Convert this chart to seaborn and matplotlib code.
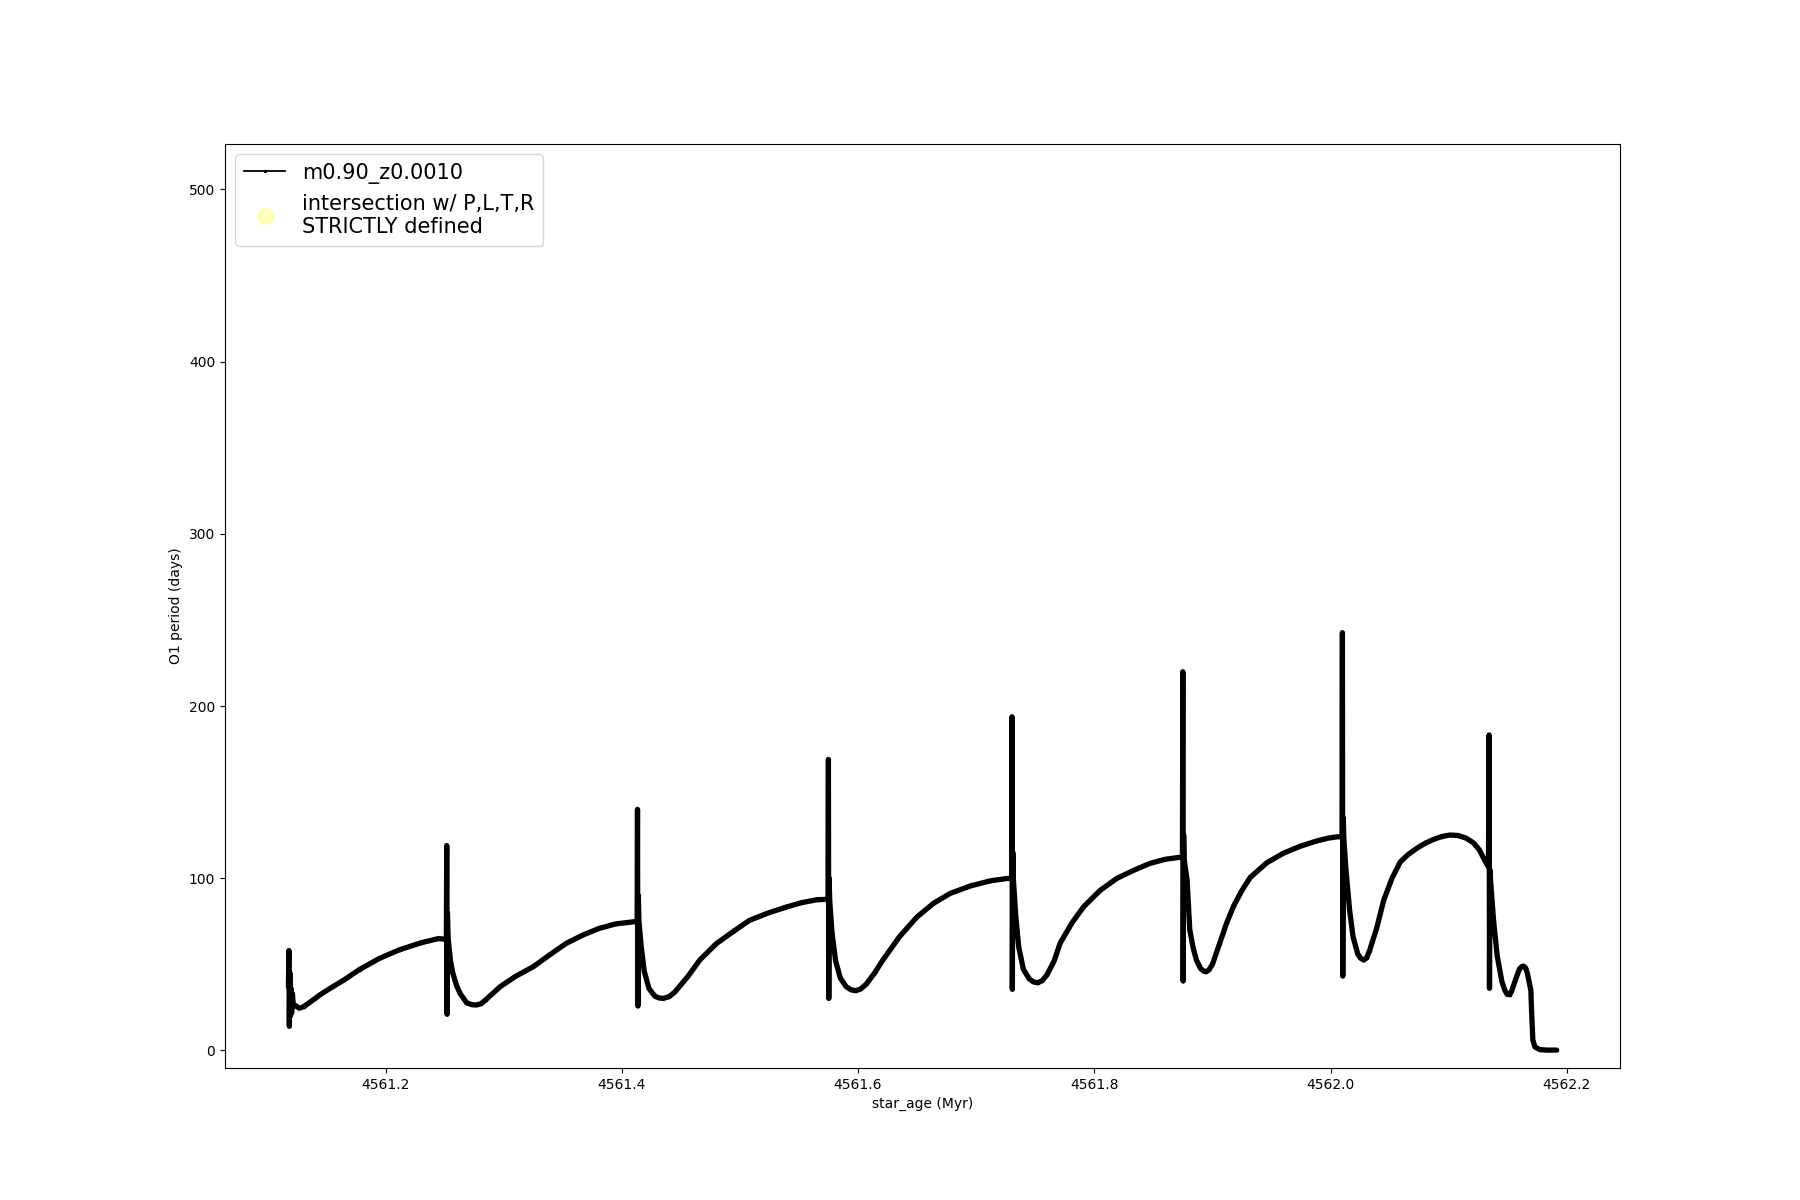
# O1 period vs star age for m0.90_z0.0010 (thermal pulse cycles)

import pandas as pd
import matplotlib
matplotlib.use('Agg')
import matplotlib.pyplot as plt
from matplotlib.lines import Line2D
import seaborn as sns

model_label = 'm0.90_z0.0010'
intersection_label = 'intersection w/ P,L,T,R\nSTRICTLY defined'

# valores (idade em Myr, periodo em dias)
star_age = [
    4561.1178, 4561.1182, 4561.1186, 4561.1190, 4561.1195, 4561.1200, 4561.1205, 4561.1212,
    4561.1220, 4561.1240, 4561.1270, 4561.1310, 4561.1350, 4561.1400, 4561.1450, 4561.1530,
    4561.1650, 4561.1780, 4561.1950, 4561.2120, 4561.2300, 4561.2450, 4561.2505,
    # pulso 1
    4561.2515, 4561.2518, 4561.2521, 4561.2524, 4561.2530, 4561.2550, 4561.2570, 4561.2600,
    4561.2630, 4561.2686, 4561.2730, 4561.2770, 4561.2810, 4561.2850, 4561.2970, 4561.3100,
    4561.3250, 4561.3400, 4561.3530, 4561.3670, 4561.3810, 4561.3950, 4561.4100,
    # pulso 2
    4561.4130, 4561.4133, 4561.4136, 4561.4140, 4561.4145, 4561.4165, 4561.4190, 4561.4230,
    4561.4280, 4561.4315, 4561.4350, 4561.4400, 4561.4450, 4561.4560, 4561.4660, 4561.4800,
    4561.4940, 4561.5080, 4561.5230, 4561.5380, 4561.5520, 4561.5650, 4561.5720,
    # pulso 3
    4561.5746, 4561.5749, 4561.5752, 4561.5755, 4561.5760, 4561.5780, 4561.5810, 4561.5850,
    4561.5900, 4561.5940, 4561.5980, 4561.6020, 4561.6070, 4561.6140, 4561.6210, 4561.6350,
    4561.6500, 4561.6640, 4561.6780, 4561.6950, 4561.7120, 4561.7265,
    # pulso 4
    4561.7300, 4561.7303, 4561.7306, 4561.7310, 4561.7315, 4561.7335, 4561.7360, 4561.7400,
    4561.7450, 4561.7485, 4561.7520, 4561.7560, 4561.7600, 4561.7660, 4561.7710, 4561.7810,
    4561.7910, 4561.8050, 4561.8190, 4561.8330, 4561.8470, 4561.8600, 4561.8715,
    # pulso 5
    4561.8746, 4561.8749, 4561.8752, 4561.8756, 4561.8760, 4561.8785, 4561.8808, 4561.8835,
    4561.8864, 4561.8900, 4561.8925, 4561.8946, 4561.8970, 4561.9000, 4561.9060, 4561.9120,
    4561.9180, 4561.9250, 4561.9320, 4561.9460, 4561.9600, 4561.9740, 4561.9880, 4561.9980,
    4562.0060,
    # pulso 6
    4562.0097, 4562.0100, 4562.0103, 4562.0107, 4562.0112, 4562.0130, 4562.0160, 4562.0190,
    4562.0230, 4562.0255, 4562.0280, 4562.0305, 4562.0330, 4562.0390, 4562.0450, 4562.0520,
    4562.0590, 4562.0660, 4562.0730, 4562.0800, 4562.0870, 4562.0940, 4562.1010, 4562.1080,
    4562.1150, 4562.1210, 4562.1260, 4562.1300, 4562.1336,
    # pulso 7 e final
    4562.1342, 4562.1345, 4562.1348, 4562.1358, 4562.1380, 4562.1410, 4562.1450, 4562.1475,
    4562.1495, 4562.1515, 4562.1530, 4562.1570, 4562.1600, 4562.1620, 4562.1633, 4562.1650,
    4562.1665, 4562.1680, 4562.1695, 4562.1703, 4562.1712, 4562.1730, 4562.1770, 4562.1830,
    4562.1913,
]

o1_period = [
    37, 58, 14, 45, 20, 36, 22, 33,
    26, 26, 24.5, 25.5, 27.5, 30, 32.5, 36,
    41, 47, 53.5, 58.5, 62.5, 65, 64.5,
    # pulso 1
    64, 119, 21, 80, 65, 52, 44.8, 38,
    33.2, 27.7, 26.6, 26.4, 27.2, 29.5, 37, 43,
    48.6, 56, 62.2, 67, 70.9, 73.5, 74.7,
    # pulso 2
    74.7, 140, 25.8, 90, 75, 60, 46, 36,
    31.5, 30.5, 30.2, 31.2, 34, 43, 52.5, 62,
    68.9, 75.5, 79.6, 83, 85.8, 87.5, 87.7,
    # pulso 3
    87.7, 169, 30.2, 100, 87, 68, 52, 42,
    37, 35.2, 34.7, 35.6, 38.5, 45, 52.5, 66,
    77.6, 85.5, 91.2, 95.5, 98.5, 99.9,
    # pulso 4
    99.9, 193.8, 35.5, 115, 99, 78, 60, 47,
    41.5, 39.8, 39.3, 40.6, 44, 52, 62.2, 74,
    83.5, 93, 99.9, 104.5, 108.6, 111, 112.1,
    # pulso 5
    112.1, 219.9, 40.3, 125, 111, 99, 70, 60,
    52.5, 47.5, 46.1, 45.7, 46.8, 50, 62, 74,
    84, 93, 100.5, 109, 114.5, 118.5, 121.6, 123.3,
    124.1,
    # pulso 6
    124.1, 242.6, 43.2, 135, 123, 105, 82, 66,
    56, 53.5, 52.5, 53.8, 58, 71, 87.3, 100,
    109.5, 114, 117.4, 120.3, 122.5, 124.2, 125.1, 124.8,
    123.2, 120.5, 116.4, 111, 106.7,
    # pulso 7 e final
    183.2, 36.1, 105, 95, 75, 55, 40, 35,
    32.5, 32.4, 34, 42, 47.5, 48.8, 49, 48,
    45, 40, 35, 20, 6, 2, 0.5, 0.2,
    0.2,
]

df = pd.DataFrame({'star_age': star_age, 'o1_period': o1_period})

fig, ax = plt.subplots(figsize=(18, 12), dpi=100)

sns.lineplot(data=df, x='star_age', y='o1_period', sort=False, estimator=None,
             color='black', linewidth=3.8, marker='.', markersize=5,
             markeredgewidth=0, legend=False, ax=ax)
ax.lines[-1].set_solid_capstyle('round')
ax.lines[-1].set_solid_joinstyle('round')

# pontos de intersecao (nenhum nesta faixa)
ax.scatter([], [], s=120, color='yellow', alpha=0.25, label=intersection_label)

ax.set_ylim(-10.2, 526.4)
ax.set_xlabel('star_age (Myr)')
ax.set_ylabel('O1 period (days)')

handles = [
    Line2D([], [], color='black', linewidth=1.3, marker='.', markersize=3),
    Line2D([], [], linestyle='none', marker='o', markersize=11,
           markerfacecolor='yellow', markeredgecolor='yellow', alpha=0.25),
]
ax.legend(handles, [model_label, intersection_label], loc='upper left', fontsize=15)

plt.savefig('out.png', dpi=100)
